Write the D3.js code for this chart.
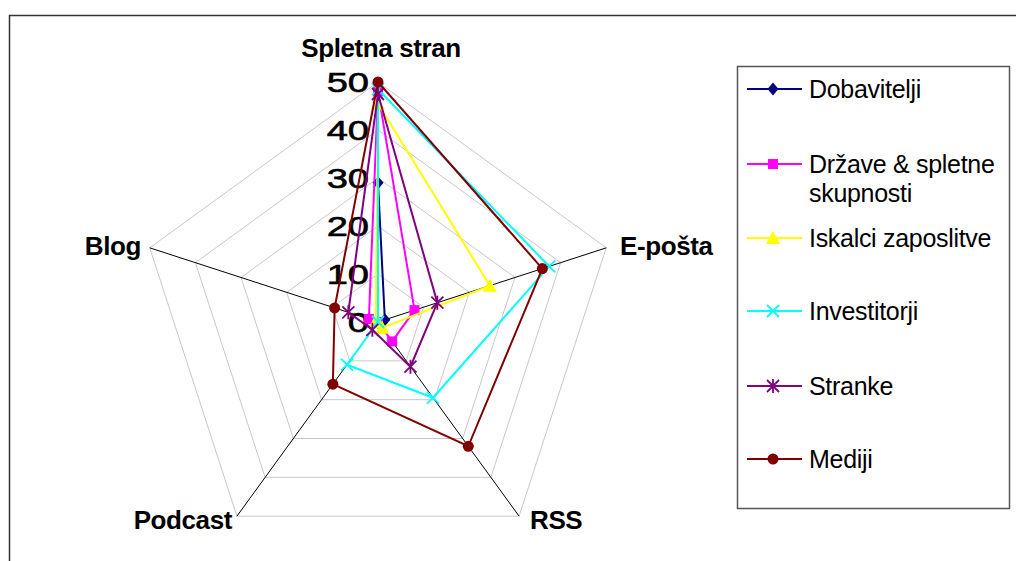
<!DOCTYPE html>
<html>
<head>
<meta charset="utf-8">
<script src="https://cdn.jsdelivr.net/npm/d3@7"></script>
<style>
  html, body { margin: 0; padding: 0; background: #fff; }
  svg { display: block; font-family: "Liberation Sans", Arial, sans-serif; }
</style>
</head>
<body>
<svg id="chart" width="1016" height="561"></svg>
<script>
// Radar axes (clockwise from the top)
const axes = ["Spletna stran", "E-pošta", "RSS", "Podcast", "Blog"];
const ticks = [0, 10, 20, 30, 40, 50];

// Values per audience, in axis order
const seriesNames = ["Dobavitelji", "Države & spletne skupnosti", "Iskalci zaposlitve", "Investitorji", "Stranke", "Mediji"];
const dobavitelji = [29, 1.5, 0, 0, 0];
const drzave = [48, 8, 5, 0, 2];
const iskalci = [45.5, 24.5, 1.5, 0, 0.5];
const investitorji = [48.5, 37.5, 19.5, 11, 0];
const stranke = [47.5, 13, 11.5, 2, 6.5];
const mediji = [50, 36, 32, 16, 9.5];
const seriesValues = [dobavitelji, drzave, iskalci, investitorji, stranke, mediji];
const seriesColors = ["#000080", "#FF00FF", "#FFFF00", "#00FFFF", "#800080", "#800000"];
const seriesMarkers = ["diamond", "square", "triangle", "cross", "star", "circle"];

const svg = d3.select("#chart");
const cx = 378, cy = 322, R = 240;

// outer chart frame
svg.append("path")
  .attr("d", "M9.5,561 V15.5 H1016")
  .attr("fill", "none").attr("stroke", "#333").attr("stroke-width", 1.5);

const r = d3.scaleLinear().domain([0, 50]).range([0, R]);
const angle = d3.scalePoint().domain(axes).range([0, 2 * Math.PI * (axes.length - 1) / axes.length]);
const pt = (axis, v) => {
  const a = angle(axis);
  return [cx + r(v) * Math.sin(a), cy - r(v) * Math.cos(a)];
};

// grid pentagons
const grid = svg.append("g");
ticks.filter(t => t > 0).forEach(t => {
  grid.append("path")
    .attr("d", d3.line()(axes.map(a => pt(a, t))) + "Z")
    .attr("fill", "none").attr("stroke", "#c8c8c8").attr("stroke-width", 1);
});
// spokes
axes.forEach(a => {
  const [x, y] = pt(a, 50);
  grid.append("line").attr("x1", cx).attr("y1", cy).attr("x2", x).attr("y2", y)
    .attr("stroke", "#000").attr("stroke-width", 1);
});

// tick labels along the top spoke
const tickG = svg.append("g");
ticks.forEach(t => {
  tickG.append("text")
    .attr("transform", `translate(${cx - 9},${cy - r(t) + 10}) scale(1.36,1)`)
    .attr("text-anchor", "end")
    .attr("font-size", 28)
    .attr("fill", "#000")
    .attr("stroke", "#000").attr("stroke-width", 0.6)
    .text(t);
});

// axis labels
const axisLabel = [
  { dx: 3, dy: -265, anchor: "middle" },
  { dx: 242, dy: -67, anchor: "start" },
  { dx: 152, dy: 207, anchor: "start" },
  { dx: -146, dy: 207, anchor: "end" },
  { dx: -237, dy: -67, anchor: "end" }
];
axes.forEach((a, i) => {
  svg.append("text")
    .attr("x", cx + axisLabel[i].dx).attr("y", cy + axisLabel[i].dy)
    .attr("text-anchor", axisLabel[i].anchor)
    .attr("font-size", 26).attr("font-weight", "bold")
    .attr("letter-spacing", -0.4)
    .text(a);
});

// marker drawing
function marker(g, type, color, x, y) {
  const s = 5.5;
  if (type === "diamond") {
    g.append("path").attr("d", `M${x},${y - s - 1}L${x + s},${y}L${x},${y + s + 1}L${x - s},${y}Z`).attr("fill", color);
  } else if (type === "square") {
    g.append("rect").attr("x", x - 5).attr("y", y - 5).attr("width", 10).attr("height", 10).attr("fill", color);
  } else if (type === "triangle") {
    g.append("path").attr("d", `M${x},${y - 7}L${x + 7},${y + 6}L${x - 7},${y + 6}Z`).attr("fill", color);
  } else if (type === "cross") {
    g.append("path").attr("d", `M${x - 6},${y - 6}L${x + 6},${y + 6}M${x + 6},${y - 6}L${x - 6},${y + 6}`)
      .attr("stroke", color).attr("stroke-width", 1.8);
  } else if (type === "star") {
    g.append("path").attr("d", `M${x - 6},${y - 6}L${x + 6},${y + 6}M${x + 6},${y - 6}L${x - 6},${y + 6}M${x},${y - 7}L${x},${y + 7}`)
      .attr("stroke", color).attr("stroke-width", 1.8);
  } else {
    g.append("circle").attr("cx", x).attr("cy", y).attr("r", 5.5).attr("fill", color);
  }
}

// series
const lineGen = d3.line();
seriesValues.forEach((vals, i) => {
  const g = svg.append("g");
  const pts = vals.map((v, j) => pt(axes[j], v));
  g.append("path").attr("d", lineGen(pts) + "Z")
    .attr("fill", "none").attr("stroke", seriesColors[i]).attr("stroke-width", 2);
  pts.forEach(p => marker(g, seriesMarkers[i], seriesColors[i], p[0], p[1]));
});

// legend
const leg = svg.append("g");
leg.append("rect").attr("x", 737.5).attr("y", 66.5).attr("width", 272).attr("height", 442)
  .attr("fill", "#fff").attr("stroke", "#555").attr("stroke-width", 1.5);
const legY = [89, 164, 238, 311, 386, 459];
seriesNames.forEach((name, i) => {
  const y = legY[i];
  leg.append("line").attr("x1", 747).attr("x2", 802).attr("y1", y).attr("y2", y)
    .attr("stroke", seriesColors[i]).attr("stroke-width", 2);
  marker(leg, seriesMarkers[i], seriesColors[i], 773, y);
  const lines = name === "Države & spletne skupnosti" ? ["Države & spletne", "skupnosti"] : [name];
  lines.forEach((ln, k) => {
    leg.append("text").attr("x", 809).attr("y", y + 8.5 + k * 29)
      .attr("font-size", 25).attr("letter-spacing", -0.3).attr("fill", "#000")
      .text(ln);
  });
});
</script>
</body>
</html>
